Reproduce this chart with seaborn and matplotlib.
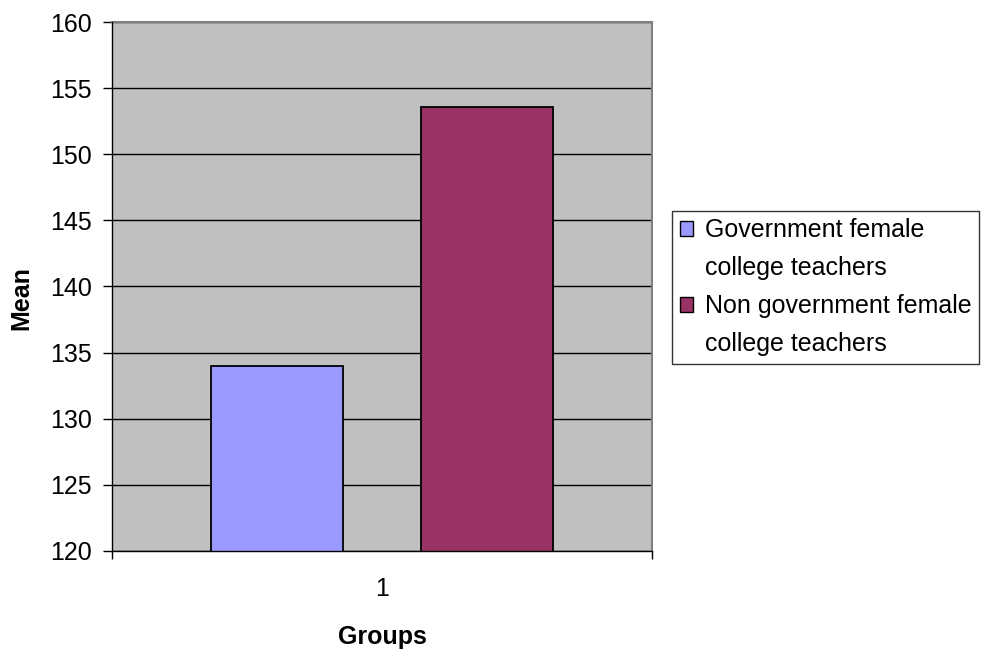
import matplotlib
matplotlib.use("Agg")
import matplotlib.pyplot as plt
from matplotlib.patches import Patch
import seaborn as sns
import pandas as pd

groups = ["1", "1"]
series = ["Government female\ncollege teachers", "Non government female\ncollege teachers"]
means = [134.0, 153.6]
colors = ["#9999FF", "#993366"]
yticks = [120, 125, 130, 135, 140, 145, 150, 155, 160]

df = pd.DataFrame({"Groups": groups, "Series": series, "Mean": means})

sns.set_theme(style="white")
plt.rcParams["font.family"] = ["Liberation Sans", "DejaVu Sans"]
plt.rcParams["text.color"] = "black"
plt.rcParams["axes.labelcolor"] = "black"
plt.rcParams["xtick.color"] = "black"
plt.rcParams["ytick.color"] = "black"

FS = 18

fig = plt.figure(figsize=(9.83, 6.53), dpi=100)
ax = fig.add_axes([112/983, 1-551/653, 540/983, 529/653])
ax.set_facecolor("#C0C0C0")

sns.barplot(data=df, x="Groups", y="Mean", hue="Series", palette=colors,
            saturation=1, width=0.78, gap=0.374, edgecolor="black",
            linewidth=1.3, ax=ax, zorder=3, legend=False)

ax.set_xlim(-0.5, 0.5)
ax.set_ylim(120, 160)
ax.set_yticks(yticks)
ax.set_yticklabels([str(t) for t in yticks], fontsize=FS)
ax.yaxis.grid(True, color="black", linewidth=1, zorder=1)
ax.set_axisbelow(True)
ax.tick_params(axis="y", length=6.7, width=1, color="black", left=True, pad=8)
ax.set_xticks([0])
ax.set_xticklabels(["1"], fontsize=FS)
ax.tick_params(axis="x", length=0, pad=19)
ax.set_xticks([-0.5, 0.5], minor=True)
ax.tick_params(axis="x", which="minor", length=6, width=1, color="black",
               bottom=True, direction="out")

for s in ["top", "right"]:
    ax.spines[s].set_color("#808080")
    ax.spines[s].set_linewidth(1.5)
for s in ["left", "bottom"]:
    ax.spines[s].set_color("black")
    ax.spines[s].set_linewidth(1)
    ax.spines[s].set_zorder(5)

ax.set_xlabel("Groups", fontsize=FS, fontweight="bold", va="center")
ax.xaxis.set_label_coords(0.5, (551-637)/529)
ax.set_ylabel("Mean", fontsize=FS, fontweight="bold", va="center")
ax.yaxis.set_label_coords((21-112)/540, (551-298)/529)

# Legend: marker aligned with first line of each entry (Excel style)
handles, labels = [], []
for name, col in zip(series, colors):
    lines = name.split("\n")
    handles.append(Patch(facecolor=col, edgecolor="black", linewidth=1))
    labels.append(lines[0])
    for extra in lines[1:]:
        handles.append(Patch(facecolor="none", edgecolor="none"))
        labels.append(extra)

leg = ax.legend(handles, labels, loc="upper left",
                bbox_to_anchor=(672/983, 1-211/653),
                bbox_transform=fig.transFigure, fontsize=FS, frameon=True,
                fancybox=False, edgecolor="black", handlelength=0.55,
                handleheight=0.55, handletextpad=0.48, borderpad=0.3,
                labelspacing=0.56, borderaxespad=0)
leg.get_frame().set_linewidth(1)

fig.savefig("out.png", dpi=100, facecolor="white")
